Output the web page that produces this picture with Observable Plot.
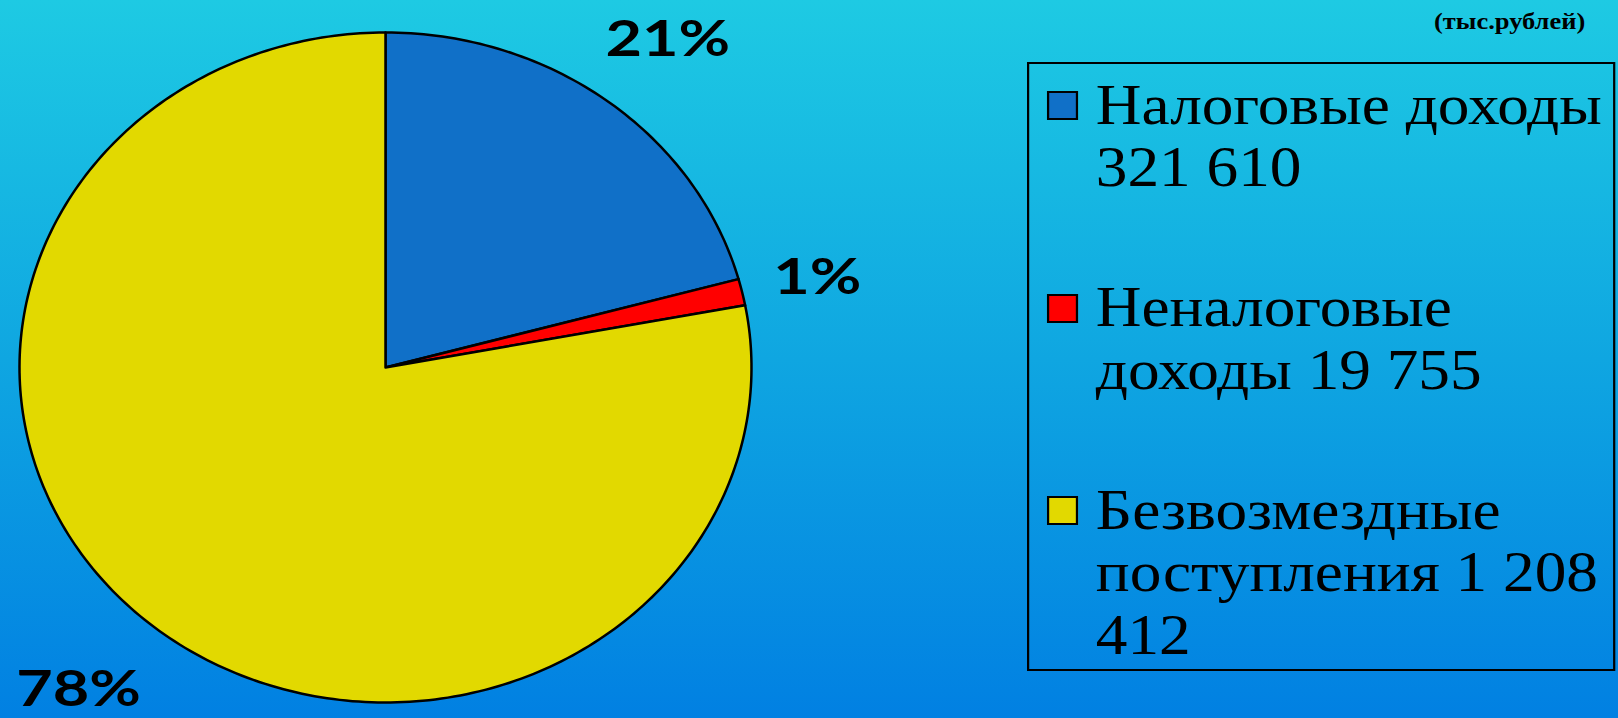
<!DOCTYPE html>
<html>
<head>
<meta charset="utf-8">
<script src="https://cdn.jsdelivr.net/npm/d3@7"></script>
<script src="https://cdn.jsdelivr.net/npm/@observablehq/plot@0.6"></script>
<style>
html, body { margin: 0; padding: 0; width: 1618px; height: 718px; overflow: hidden; }
body {
  position: relative;
  background: linear-gradient(to bottom, #1ecae3 0%, #0fa6e1 50%, #0180e2 100%);
  font-family: "Liberation Serif", "Times New Roman", serif;
}
#chart { position: absolute; left: 0; top: 0; }
#unit {
  position: absolute; left: 1434px; top: 10px;
  font-size: 23px; line-height: 23px; font-weight: bold; color: #000;
  transform: scaleX(1.15); transform-origin: 0 0; white-space: nowrap;
}
#legend {
  position: absolute; left: 1027px; top: 62px;
  width: 530px; height: 609px; box-sizing: border-box;
  border: 2px solid #000;
  padding-top: 9.5px;
  transform: scaleX(1.11); transform-origin: 0 0;
}
.item {
  position: relative; padding-left: 60px; width: 490px;
  font-size: 57px; line-height: 62.5px; color: #000;
  margin-bottom: 77.5px;
}
.swatch {
  position: absolute; left: 16px; top: 17.5px; width: 28px; height: 29px;
  box-sizing: border-box; border: 2px solid #000;
}
</style>
</head>
<body>
<div id="chart"></div>
<div id="unit"></div>
<div id="legend"></div>
<script>
// ---- data ----
const categories = ["Налоговые доходы", "Неналоговые доходы", "Безвозмездные поступления"];
const values = [321610, 19755, 1208412];
const colors = ["#1070c8", "#ff0000", "#e2d900"];
const unitLabel = "(тыс.рублей)";

const rows = categories.map((c, i) => ({category: c, value: values[i]}));
const total = d3.sum(values);
const arcs = d3.pie().sort(null).value(d => d.value)(rows);

const xRange = [19, 751], yRange = [702, 32];
const rx = (xRange[1] - xRange[0]) / 2, ry = (yRange[0] - yRange[1]) / 2;

// polygon outline of each slice (unit circle, angles from 12 o'clock clockwise)
const poly = [];
for (const a of arcs) {
  const cat = a.data.category;
  poly.push({cat, px: 0, py: 0});
  const n = Math.max(2, Math.ceil((a.endAngle - a.startAngle) / (Math.PI / 180)));
  for (let i = 0; i <= n; i++) {
    const t = a.startAngle + (a.endAngle - a.startAngle) * i / n;
    poly.push({cat, px: Math.sin(t), py: Math.cos(t)});
  }
}
// outside-end labels: box just outside the rim along the mid-angle
const labels = arcs.map(a => {
  const m = (a.startAngle + a.endAngle) / 2;
  const text = Math.round(a.data.value / total * 100) + "%";
  const ex = Math.sin(m), ey = Math.cos(m);
  const vx = ex * rx, vy = ey * ry, L = Math.hypot(vx, vy);
  const ux = vx / L, uy = vy / L;
  const w = 40 * text.length, h = 41, gapX = 42, gapY = 63;
  const ox = ux * (gapX + w / 2), oy = uy * (gapY + h / 2);
  return {px: ex + ox / rx, py: ey + oy / ry, text};
});

const plot = Plot.plot({
  width: 1618,
  height: 718,
  margin: 0,
  x: {domain: [-1, 1], range: xRange, axis: null},
  y: {domain: [-1, 1], range: yRange, axis: null},
  color: {domain: categories, range: colors},
  style: {background: "transparent", overflow: "visible"},
  marks: [
    Plot.line(poly, {x: "px", y: "py", z: "cat", fill: "cat", stroke: "#000", strokeWidth: 2.5, curve: "linear-closed", strokeLinejoin: "round"}),
    Plot.text(labels, {x: "px", y: "py", text: "text", fontSize: 50, fontWeight: "bold", fontFamily: "Lato, 'Open Sans', sans-serif", fill: "#000", textAnchor: "middle", lineAnchor: "middle", dx: -5, dy: 3})
  ]
});
// horizontal stretch of the percent labels (as in the original)
d3.select(plot).selectAll("text").each(function() {
  const t = this.getAttribute("transform");
  if (t) this.setAttribute("transform", t + " scale(1.26,1)");
  else {
    const x = +this.getAttribute("x") || 0, y = +this.getAttribute("y") || 0;
    this.setAttribute("transform", `translate(${x},${y}) scale(1.26,1) translate(${-x},${-y})`);
  }
});
document.getElementById("chart").appendChild(plot);

document.getElementById("unit").textContent = unitLabel;

const fmt = v => String(v).replace(/\B(?=(\d{3})+(?!\d))/g, " ");
const legend = document.getElementById("legend");
categories.forEach((c, i) => {
  const item = document.createElement("div");
  item.className = "item";
  const sw = document.createElement("div");
  sw.className = "swatch";
  sw.style.background = colors[i];
  item.appendChild(sw);
  item.appendChild(document.createTextNode(c + " " + fmt(values[i])));
  legend.appendChild(item);
});
</script>
</body>
</html>
